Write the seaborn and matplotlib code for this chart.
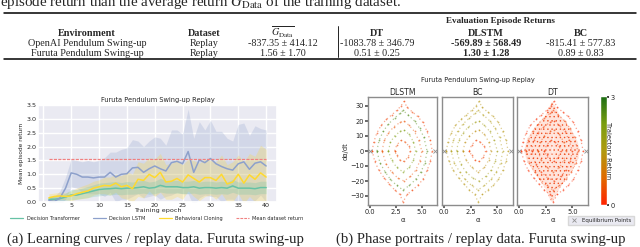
import matplotlib
matplotlib.use("Agg")
import numpy as np
import pandas as pd
import matplotlib.pyplot as plt
import seaborn as sns
from matplotlib.colors import LinearSegmentedColormap, Normalize
from matplotlib.lines import Line2D

# ── Datos: curvas de aprendizaje ───────────────────────────────────────────
EPOCHS = list(range(1, 41))

DT_MEAN = [0.10, 0.10, 0.12, 0.18, 0.25, 0.25, 0.30, 0.35, 0.40, 0.45, 0.47, 0.48, 0.50, 0.48, 0.50, 0.50, 0.52, 0.55, 0.50, 0.52,
           0.60, 0.55, 0.55, 0.55, 0.52, 0.52, 0.55, 0.50, 0.52, 0.52, 0.50, 0.52, 0.50, 0.58, 0.50, 0.50, 0.50, 0.48, 0.52, 0.52]
DT_LOW = [0.00, 0.02, 0.03, 0.06, 0.08, 0.10, 0.13, 0.16, 0.20, 0.22, 0.25, 0.25, 0.28, 0.26, 0.28, 0.28, 0.30, 0.32, 0.28, 0.30,
          0.36, 0.32, 0.32, 0.32, 0.30, 0.30, 0.32, 0.28, 0.30, 0.30, 0.28, 0.30, 0.28, 0.35, 0.28, 0.28, 0.28, 0.26, 0.30, 0.30]
DT_HIGH = [0.20, 0.20, 0.24, 0.32, 0.45, 0.45, 0.50, 0.56, 0.62, 0.68, 0.70, 0.72, 0.74, 0.70, 0.74, 0.72, 0.76, 0.78, 0.72, 0.75,
           0.85, 0.78, 0.78, 0.78, 0.75, 0.75, 0.78, 0.72, 0.75, 0.75, 0.72, 0.75, 0.72, 0.82, 0.72, 0.72, 0.72, 0.70, 0.75, 0.75]

DLSTM_MEAN = [0.05, 0.02, 0.15, 0.50, 1.05, 1.00, 0.90, 0.90, 0.87, 0.90, 0.90, 1.07, 0.90, 1.00, 1.02, 1.23, 1.25, 1.07, 1.20, 1.30,
              1.20, 1.12, 1.42, 1.47, 1.38, 1.82, 1.07, 1.52, 1.42, 1.57, 1.38, 1.28, 1.20, 1.15, 1.38, 1.45, 1.18, 1.40, 1.45, 1.30]
DLSTM_LOW = [-0.10, -0.15, -0.10, 0.10, 0.55, 0.50, 0.35, 0.30, 0.30, 0.30, 0.20, 0.35, 0.00, 0.10, 0.10, 0.20, 0.30, 0.15, 0.20, 0.25,
             0.10, 0.20, 0.25, 0.35, 0.30, 0.30, -0.15, 0.15, 0.25, 0.20, 0.20, 0.00, 0.10, 0.10, -0.05, 0.05, -0.05, 0.05, 0.25, 0.00]
DLSTM_HIGH = [0.20, 0.20, 0.40, 0.90, 1.55, 1.50, 1.45, 1.50, 1.45, 1.50, 1.60, 1.80, 1.80, 1.90, 1.95, 2.25, 2.20, 2.00, 2.20, 2.35,
              2.30, 2.05, 2.60, 2.60, 2.45, 3.35, 2.30, 2.90, 2.60, 2.95, 2.55, 2.55, 2.30, 2.20, 2.80, 2.85, 2.40, 2.75, 2.65, 2.60]

BC_MEAN = [0.15, 0.20, 0.22, 0.20, 0.22, 0.30, 0.35, 0.40, 0.50, 0.55, 0.60, 0.58, 0.68, 0.55, 0.60, 0.48, 0.82, 0.78, 1.00, 0.88,
           1.07, 0.72, 0.75, 0.85, 0.72, 0.98, 0.85, 0.72, 0.88, 0.88, 0.78, 1.00, 0.65, 0.72, 1.00, 0.68, 0.98, 0.82, 1.05, 0.90]
BC_LOW = [0.02, 0.08, 0.10, 0.08, 0.05, 0.10, 0.12, 0.15, 0.25, 0.30, 0.30, 0.25, 0.35, 0.15, 0.10, 0.00, 0.20, 0.15, 0.40, 0.20,
          0.35, 0.10, 0.10, 0.20, 0.10, 0.40, 0.20, 0.05, 0.20, 0.25, 0.10, 0.30, 0.00, 0.00, 0.30, -0.05, 0.20, 0.00, 0.05, -0.10]
BC_HIGH = [0.30, 0.32, 0.35, 0.33, 0.40, 0.50, 0.58, 0.65, 0.75, 0.80, 0.90, 0.90, 1.00, 0.95, 1.10, 1.00, 1.45, 1.40, 1.60, 1.55,
           1.75, 1.35, 1.40, 1.50, 1.35, 1.55, 1.50, 1.40, 1.55, 1.50, 1.45, 1.70, 1.35, 1.45, 1.70, 1.45, 1.75, 1.65, 2.05, 1.90]

MEAN_DATASET_RETURN = 1.56

# ── Datos: órbitas del retrato de fase (α, dα/dt) ──────────────────────────
ORBIT_1_A = [0.25, 0.4, 0.7, 1.1, 1.6, 2.1, 2.6, 3.0, 3.3, 3.6, 4.1, 4.6, 5.1, 5.5, 5.8, 6.0,
             5.8, 5.5, 5.1, 4.6, 4.1, 3.6, 3.2, 2.9, 2.4, 1.9, 1.4, 0.9, 0.5, 0.25]
ORBIT_1_D = [0, 6, 12, 17, 21, 24, 27, 30, 33, 29, 26, 23, 19, 13, 7, 0,
             -7, -13, -19, -23, -26, -29, -34, -29, -26, -22, -18, -13, -7, 0]
ORBIT_2_A = [0.7, 0.9, 1.3, 1.8, 2.4, 2.9, 3.2, 3.7, 4.3, 4.8, 5.2, 5.5,
             5.3, 4.9, 4.4, 3.8, 3.2, 2.6, 2.0, 1.5, 1.0, 0.7]
ORBIT_2_D = [0, 7, 13, 18, 22, 25, 27, 24, 20, 15, 9, 0,
             -8, -14, -19, -23, -26, -23, -19, -14, -8, 0]
ORBIT_3_A = [1.2, 1.4, 1.8, 2.3, 2.9, 3.3, 3.8, 4.3, 4.7, 5.0,
             4.8, 4.4, 3.9, 3.3, 2.7, 2.1, 1.6, 1.2]
ORBIT_3_D = [0, 7, 12, 16, 19, 20, 17, 13, 7, 0,
             -7, -13, -17, -20, -18, -14, -9, 0]
ORBIT_4_A = [1.8, 2.0, 2.4, 2.9, 3.3, 3.8, 4.2, 4.4, 4.2, 3.8, 3.2, 2.6, 2.1, 1.8]
ORBIT_4_D = [0, 6, 10, 13, 14, 11, 6, 0, -6, -11, -14, -11, -6, 0]
ORBIT_5_A = [2.4, 2.6, 3.0, 3.4, 3.8, 3.9, 3.7, 3.3, 2.9, 2.6, 2.4]
ORBIT_5_D = [0, 4, 7, 6, 3, 0, -4, -7, -6, -3, 0]

DT_HULL_A = [0.5, 0.8, 1.3, 1.9, 2.5, 2.9, 3.1, 3.4, 3.8, 4.4, 5.0, 5.5, 5.7,
             5.5, 5.0, 4.4, 3.8, 3.3, 3.1, 2.9, 2.5, 1.9, 1.3, 0.8, 0.5]
DT_HULL_D = [0, 8, 14, 19, 24, 30, 33, 30, 24, 19, 13, 6, 0,
             -6, -13, -19, -25, -32, -34, -32, -25, -19, -13, -7, 0]
DT_CORE_A = [2.85, 3.0, 3.2, 3.4, 3.45, 3.3, 3.1, 2.9, 2.8, 2.85]
DT_CORE_D = [-22, -8, 8, 20, 26, 10, -6, -16, -20, -22]

# retorno de cada órbita por panel
DLSTM_RETURNS = [0.3, 2.6, 0.5, 2.2, 0.4]
BC_RETURNS = [1.4, 1.5, 1.7, 1.3, 0.3]
DT_RETURNS = [0.1, 0.3, 0.2, 0.4, 0.2]

EQUILIBRIUM_A = [0.0, 2 * np.pi]
EQUILIBRIUM_D = [0.0, 0.0]

# ── Datos: tabla ───────────────────────────────────────────────────────────
TABLE_ENVS = ["OpenAI Pendulum Swing-up", "Furuta Pendulum Swing-up"]
TABLE_DATASET = ["Replay", "Replay"]
TABLE_G = ["-837.35 ± 414.12", "1.56 ± 1.70"]
TABLE_DT = ["-1083.78 ± 346.79", "0.51 ± 0.25"]
TABLE_DLSTM = ["-569.89 ± 568.49", "1.30 ± 1.28"]
TABLE_BC = ["-815.41 ± 577.83", "0.89 ± 0.83"]

# ── Estilo ─────────────────────────────────────────────────────────────────
W, H = 640, 247
C_DT, C_DLSTM, C_BC, C_MEAN = "#66c2a5", "#8da0cb", "#ffd92f", "#f08080"
SERIF = ["Liberation Serif", "DejaVu Serif"]
CMAP = LinearSegmentedColormap.from_list(
    "ret", ["#ff2200", "#e06a00", "#b09a10", "#7a9e10", "#1e6e14"])
NORM = Normalize(0, 3)

sns.set_theme(style="darkgrid")
plt.rcParams["font.family"] = ["DejaVu Sans"]
plt.rcParams["mathtext.fontset"] = "stix"
plt.rcParams["hatch.linewidth"] = 0.5

fig = plt.figure(figsize=(W / 100, H / 100), dpi=100)
fig.patch.set_facecolor("white")


def px_axes(l, t, r, b):
    return fig.add_axes([l / W, 1 - b / H, (r - l) / W, (b - t) / H])


def ftext(x, y, s, **kw):
    fig.text(x / W, 1 - y / H, s, **kw)


# ── Tabla (texto de la figura) ─────────────────────────────────────────────
ftext(0, 6, r"episode return than the average return $G_{\mathrm{Data}}$ of the training dataset.",
      family=SERIF, fontsize=10.8, va="baseline")
fig.add_artist(Line2D([4 / W, 636 / W], [1 - 13.5 / H] * 2, color="black", lw=1.1))
fig.add_artist(Line2D([4 / W, 636 / W], [1 - 59 / H] * 2, color="black", lw=1.1))
fig.add_artist(Line2D([338 / W] * 2, [1 - 26 / H, 1 - 57 / H], color="black", lw=0.6))

ftext(500, 21, "Evaluation Episode Returns", family=SERIF, fontsize=6.6,
      weight="bold", ha="center", va="center")
COLS_X = [87, 204, 283, 377, 486, 581]
HEADS = ["Environment", "Dataset", r"$\overline{G_{\mathrm{Data}}}$", "DT", "DLSTM", "BC"]
for x, h in zip(COLS_X, HEADS):
    ftext(x, 36.5, h, family=SERIF, fontsize=7.3, weight="bold", ha="center",
          va="baseline")
for i, y in enumerate([44, 53]):
    row = [TABLE_ENVS[i], TABLE_DATASET[i], TABLE_G[i], TABLE_DT[i], TABLE_DLSTM[i], TABLE_BC[i]]
    for j, (x, s) in enumerate(zip(COLS_X, row)):
        ftext(x, y, s, family=SERIF, fontsize=7.3, ha="center", va="center",
              weight="bold" if j == 4 else "normal")

# ── (a) Curvas de aprendizaje ──────────────────────────────────────────────
ax = px_axes(38, 105, 277, 202)
df = pd.DataFrame({
    "epoch": EPOCHS * 3,
    "ret": DT_MEAN + DLSTM_MEAN + BC_MEAN,
    "model": (["Decision Transformer"] * 40 + ["Decision LSTM"] * 40
              + ["Behavioral Cloning"] * 40),
})
palette = {"Decision Transformer": C_DT, "Decision LSTM": C_DLSTM,
           "Behavioral Cloning": C_BC}
for low, high, c in [(DLSTM_LOW, DLSTM_HIGH, C_DLSTM), (BC_LOW, BC_HIGH, C_BC),
                     (DT_LOW, DT_HIGH, C_DT)]:
    ax.fill_between(EPOCHS, low, high, color=c, alpha=0.25, lw=0)
ax.plot(EPOCHS, [MEAN_DATASET_RETURN] * len(EPOCHS), ls=(0, (2.5, 1)),
        color=C_MEAN, lw=0.9, zorder=5)
sns.lineplot(data=df, x="epoch", y="ret", hue="model", palette=palette,
             lw=1.1, ax=ax, legend=False)
ax.set_xlim(-0.95, 41.95)
ax.set_ylim(0, 3.5)
ax.set_yticks(np.arange(0, 3.51, 0.5))
ax.set_xticks(range(0, 41, 5))
ax.tick_params(labelsize=4.6, pad=1, length=0)
ax.set_xlabel("Training epoch", fontsize=4.6, labelpad=0)
ax.set_ylabel("Mean episode return", fontsize=4.2, labelpad=1.5)
ax.set_title("Furuta Pendulum Swing-up Replay", fontsize=4.8, pad=2)

handles = [Line2D([], [], color=C_DT, lw=0.9), Line2D([], [], color=C_DLSTM, lw=0.9),
           Line2D([], [], color=C_BC, lw=0.9),
           Line2D([], [], color=C_MEAN, lw=0.8, ls=(0, (2.5, 1)))]
fig.legend(handles, ["Decision Transformer", "Decision LSTM", "Behavioral Cloning",
                     "Mean dataset return"],
           loc="center", bbox_to_anchor=(157 / W, 1 - 218 / H), ncol=4,
           frameon=False, fontsize=3.6, handlelength=2.6, columnspacing=2.6,
           handletextpad=0.7, borderpad=0.1)

ftext(155, 243, "(a) Learning curves / replay data. Furuta swing-up",
      family=SERIF, fontsize=10.6, ha="center", va="baseline")

# ── (b) Retratos de fase ───────────────────────────────────────────────────
orbits = [(ORBIT_1_A, ORBIT_1_D), (ORBIT_2_A, ORBIT_2_D), (ORBIT_3_A, ORBIT_3_D),
          (ORBIT_4_A, ORBIT_4_D), (ORBIT_5_A, ORBIT_5_D)]
panels = [("DLSTM", 368, 437, DLSTM_RETURNS), ("BC", 442, 513, BC_RETURNS),
          ("DT", 517, 588, DT_RETURNS)]

for k, (name, l, r, rets) in enumerate(panels):
    pax = px_axes(l, 97, r, 205)
    pax.set_facecolor("white")
    pax.grid(False)
    for sp in pax.spines.values():
        sp.set_color("#8c8c8c")
        sp.set_linewidth(1.0)
    if name == "DT":
        pax.fill(DT_HULL_A, DT_HULL_D, facecolor="#ffe2d8", edgecolor="#f04a1a",
                 hatch="....", lw=0, alpha=0.9)
    for (oa, od), ret in zip(orbits, rets):
        col = CMAP(NORM(ret))
        pax.plot(oa, od, ls=(0, (1, 2.2)), lw=0.9, color=col, alpha=0.45)
        sns.scatterplot(x=oa, y=od, color=col, s=1.6, linewidth=0, alpha=0.6, ax=pax)
    if name == "DT":
        pax.fill(DT_CORE_A, DT_CORE_D, facecolor="white", lw=0, alpha=0.6)
    pax.plot(EQUILIBRIUM_A, EQUILIBRIUM_D, ls="", marker="x", color="#909090",
             ms=2.6, mew=0.6, clip_on=False)
    pax.set_xlim(-0.15, 6.45)
    pax.set_ylim(-36, 36)
    pax.set_xticks([0, 2.5, 5])
    pax.set_xticklabels(["0.0", "2.5", "5.0"])
    pax.set_yticks([-30, -20, -10, 0, 10, 20, 30])
    pax.tick_params(labelsize=4.8, pad=1, length=2, color="#555555", bottom=True, left=True)
    pax.set_xlabel("α", fontsize=5, labelpad=1)
    pax.set_title(name, fontsize=5.6, pad=1.5)
    if k == 0:
        pax.set_ylabel("dα/dt", fontsize=4.8, labelpad=1)
    else:
        pax.set_yticklabels([])
        pax.tick_params(left=False)

cax = px_axes(601, 97, 607, 205)
cb = fig.colorbar(plt.cm.ScalarMappable(norm=NORM, cmap=CMAP), cax=cax)
cb.set_ticks([0, 3])
cb.ax.tick_params(labelsize=4.8, pad=1, length=1.5)
cb.outline.set_linewidth(0.3)
cb.set_label("Trajectory Return", rotation=270, fontsize=4.8, labelpad=-3)

ftext(478, 80, "Furuta Pendulum Swing-up Replay", fontsize=4.8, ha="center", va="center")
fig.legend([Line2D([], [], ls="", marker="x", color="#909090", ms=2.4, mew=0.6)],
           ["Equilibrium Points"], loc="lower left",
           bbox_to_anchor=(565 / W, 1 - 228 / H), fontsize=4.0, frameon=True,
           framealpha=1, edgecolor="#d8d8d8", fancybox=False, handlelength=1.4)

ftext(481, 243, "(b) Phase portraits / replay data. Furuta swing-up",
      family=SERIF, fontsize=10.6, ha="center", va="baseline")

fig.savefig("out.png", dpi=100, facecolor="white")
